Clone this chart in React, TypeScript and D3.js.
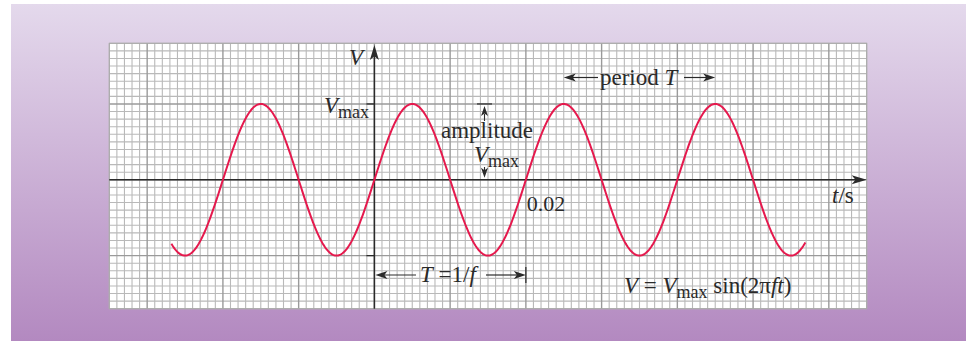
import React from "react";
import * as d3 from "d3";

// Signal parameters
const frequencyHz = [50];
const amplitudeV = [1];
const traceSpan = [-0.0268, 0.0569]; // seconds shown for the trace
const timeDomain = [-0.035, 0.065]; // paper extent, seconds
const voltDomain = [-1.7, 1.8]; // paper extent, in units of Vmax
const minorStep = [0.001, 0.1]; // grid cell: time, voltage
const tickLabels = ["0.02"];

const W = 972;
const H = 343;
const SERIF = "'Liberation Serif', 'DejaVu Serif', 'Times New Roman', serif";
const FS = 23;
const SUB = 18;

export default function App() {
  const x = d3.scaleLinear().domain(timeDomain).range([109.3, 866.7]);
  const y = d3.scaleLinear().domain(voltDomain).range([308.7, 43.3]);

  const f = frequencyHz[0];
  const A = amplitudeV[0];

  // vertical grid lines (time)
  const nX = Math.round((timeDomain[1] - timeDomain[0]) / minorStep[0]);
  const vLines = d3.range(nX + 1).map((i) => {
    const t = timeDomain[0] + i * minorStep[0];
    const major = Math.abs(Math.round(t / 0.01) * 0.01 - t) < 1e-9;
    return { pos: x(t), major };
  });
  // horizontal grid lines (voltage)
  const nY = Math.round((voltDomain[1] - voltDomain[0]) / minorStep[1]);
  const hLines = d3.range(nY + 1).map((i) => {
    const v = voltDomain[0] + i * minorStep[1];
    const major = Math.abs(Math.round(v) - v) < 1e-9;
    return { pos: y(v), major };
  });

  const samples = d3.range(0, 601).map((i) => traceSpan[0] + (i / 600) * (traceSpan[1] - traceSpan[0]));
  const line = d3
    .line<number>()
    .x((t) => x(t))
    .y((t) => y(A * Math.sin(2 * Math.PI * f * t)));

  const x0 = x(0);
  const y0 = y(0);
  const yMax = y(A);
  const yMin = y(-A);
  const T = 1 / f;
  const xPeak1 = x(T + T / 4);
  const xPeak2 = x(2 * T + T / 4);
  const xT = x(T);

  const gL = x(timeDomain[0]);
  const gR = x(timeDomain[1]);
  const gT = y(voltDomain[1]);
  const gB = y(voltDomain[0]);

  const ink = "#2a2a2a";

  // arrowhead pointing in direction (dx,dy) with tip at (tx,ty)
  const head = (tx: number, ty: number, dx: number, dy: number, len = 12, half = 4) => {
    const px = -dy;
    const py = dx;
    const bx = tx - dx * len;
    const by = ty - dy * len;
    const nx = tx - dx * len * 0.75;
    const ny = ty - dy * len * 0.75;
    return `M${tx},${ty}L${bx + px * half},${by + py * half}L${nx},${ny}L${bx - px * half},${by - py * half}Z`;
  };

  return (
    <svg
      width={W}
      height={H}
      style={{ position: "absolute", left: 0, top: 0, display: "block" }}
      fontFamily={SERIF}
    >
      <defs>
        <linearGradient id="bg" x1="0" y1="0" x2="0" y2="1">
          <stop offset="0" stopColor="#e4d9ec" />
          <stop offset="1" stopColor="#b389c0" />
        </linearGradient>
      </defs>
      <rect x={0} y={0} width={W} height={H} fill="#ffffff" />
      <rect x={11} y={4} width={955} height={337} fill="url(#bg)" />

      {/* graph paper */}
      <rect x={gL} y={gT} width={gR - gL} height={gB - gT} fill="#ffffff" />
      <g>
        {vLines.filter((l) => !l.major).map((l, i) => (
          <line key={"vm" + i} x1={l.pos} x2={l.pos} y1={gT} y2={gB} stroke="#b9b9b9" strokeWidth={1.1} />
        ))}
        {hLines.filter((l) => !l.major).map((l, i) => (
          <line key={"hm" + i} x1={gL} x2={gR} y1={l.pos} y2={l.pos} stroke="#b9b9b9" strokeWidth={1.1} />
        ))}
        {vLines.filter((l) => l.major).map((l, i) => (
          <line key={"vM" + i} x1={l.pos} x2={l.pos} y1={gT} y2={gB} stroke="#9a9a9a" strokeWidth={1.4} />
        ))}
        {hLines.filter((l) => l.major).map((l, i) => (
          <line key={"hM" + i} x1={gL} x2={gR} y1={l.pos} y2={l.pos} stroke="#9a9a9a" strokeWidth={1.4} />
        ))}
        <rect x={gL} y={gT} width={gR - gL} height={gB - gT} fill="none" stroke="#a8a8a8" strokeWidth={1} />
      </g>

      {/* axes */}
      <line x1={gL} x2={gR - 10} y1={y0} y2={y0} stroke={ink} strokeWidth={1.5} />
      <path d={head(gR, y0, 1, 0, 15, 4.5)} fill={ink} />
      <line x1={x0} x2={x0} y1={gB} y2={45 + 10} stroke={ink} strokeWidth={1.5} />
      <path d={head(x0, 45, 0, -1, 15, 4.5)} fill={ink} />

      {/* Vmax ticks */}
      <line x1={x0 - 8} x2={x0} y1={yMax} y2={yMax} stroke={ink} strokeWidth={1.3} />
      <line x1={x0 - 8} x2={x0} y1={yMin} y2={yMin} stroke={ink} strokeWidth={1.3} />

      {/* sine trace */}
      <path d={line(samples) || ""} fill="none" stroke="#e5194d" strokeWidth={2} />

      {/* axis labels */}
      <text x={349} y={65} fontSize={FS} fontStyle="italic" fill={ink}>V</text>
      <text x={832} y={203} fontSize={FS} fill={ink}>
        <tspan fontStyle="italic">t</tspan>/s
      </text>
      <text x={xT + 1} y={211} fontSize={FS - 1} fill={ink}>{tickLabels[0]}</text>

      <text x={369} y={113} fontSize={FS} fill={ink} textAnchor="end">
        <tspan fontStyle="italic">V</tspan>
        <tspan fontSize={SUB} dy={5}>max</tspan>
      </text>

      {/* amplitude marker */}
      <line x1={477} x2={492} y1={yMax} y2={yMax} stroke={ink} strokeWidth={1.2} />
      <line x1={484.5} x2={484.5} y1={yMax + 10} y2={121} stroke={ink} strokeWidth={1.1} />
      <path d={head(484.5, yMax + 2, 0, -1, 10, 3.5)} fill={ink} />
      <text x={441} y={138} fontSize={FS} fill={ink}>amplitude</text>
      <text x={474} y={162} fontSize={FS} fill={ink}>
        <tspan fontStyle="italic">V</tspan>
        <tspan fontSize={SUB} dy={5}>max</tspan>
      </text>
      <line x1={484.5} x2={484.5} y1={167} y2={y0 - 8} stroke={ink} strokeWidth={1.1} />
      <path d={head(484.5, y0 - 2, 0, 1, 10, 3.5)} fill={ink} />

      {/* period marker */}
      <line x1={xPeak1 + 8} x2={598} y1={77.5} y2={77.5} stroke={ink} strokeWidth={1.2} />
      <path d={head(xPeak1, 77.5, -1, 0, 12, 4)} fill={ink} />
      <text x={600} y={85} fontSize={FS} fill={ink}>
        period <tspan fontStyle="italic">T</tspan>
      </text>
      <line x1={684} x2={xPeak2 - 8} y1={77.5} y2={77.5} stroke={ink} strokeWidth={1.2} />
      <path d={head(xPeak2, 77.5, 1, 0, 12, 4)} fill={ink} />

      {/* T = 1/f marker */}
      <line x1={x0 + 8} x2={416} y1={275} y2={275} stroke={ink} strokeWidth={1.2} />
      <path d={head(x0 + 1, 275, -1, 0, 12, 4)} fill={ink} />
      <text x={420} y={282} fontSize={FS} fill={ink}>
        <tspan fontStyle="italic">T</tspan> =1/<tspan fontStyle="italic">f</tspan>
      </text>
      <line x1={486} x2={xT - 8} y1={275} y2={275} stroke={ink} strokeWidth={1.2} />
      <path d={head(xT, 275, 1, 0, 12, 4)} fill={ink} />
      <line x1={xT} x2={xT} y1={267} y2={283} stroke={ink} strokeWidth={1.2} />

      {/* equation */}
      <text x={624} y={293} fontSize={FS} fill={ink}>
        <tspan fontStyle="italic">V</tspan> = <tspan fontStyle="italic">V</tspan>
        <tspan fontSize={SUB} dy={5}>max</tspan>
        <tspan dy={-5}> sin(2π</tspan>
        <tspan fontStyle="italic">ft</tspan>)
      </text>
    </svg>
  );
}
